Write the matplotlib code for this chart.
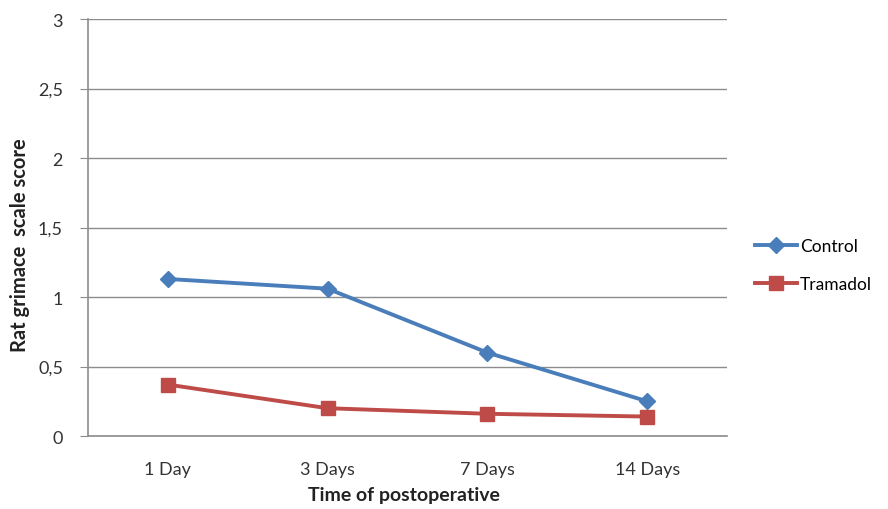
import matplotlib.pyplot as plt

# datos
categories = ['1 Day', '3 Days', '7 Days', '14 Days']
control = [1.13, 1.06, 0.60, 0.25]
tramadol = [0.37, 0.20, 0.16, 0.14]
y_ticks = [0, 0.5, 1, 1.5, 2, 2.5, 3]
y_tick_labels = ['0', '0,5', '1', '1,5', '2', '2,5', '3']

plt.rcParams['font.family'] = ['Lato', 'DejaVu Sans']

fig = plt.figure(figsize=(8.88, 5.1), dpi=100)
ax = fig.add_axes([0.0991, 0.1431, 0.7196, 0.8176])

x = list(range(len(categories)))
ax.plot(x, control, color='#4A7EBB', linewidth=2.8, marker='D', markersize=8.5,
        label='Control', zorder=3)
ax.plot(x, tramadol, color='#BE4B48', linewidth=2.8, marker='s', markersize=10.5,
        label='Tramadol', zorder=3)

ax.set_xlim(-0.5, 3.5)
ax.set_ylim(0, 3)
ax.set_yticks(y_ticks)
ax.set_yticklabels(y_tick_labels)
ax.set_xticks(x)
ax.set_xticklabels(categories)

ax.grid(axis='y', color='#8c8c8c', linewidth=1)
ax.set_axisbelow(True)
for side in ['top', 'right']:
    ax.spines[side].set_visible(False)
for side in ['left', 'bottom']:
    ax.spines[side].set_color('#8c8c8c')
    ax.spines[side].set_linewidth(1.2)

ax.tick_params(axis='y', length=6, color='#8c8c8c', labelsize=13, labelcolor='#333333', pad=12)
ax.tick_params(axis='x', length=0, labelsize=13, labelcolor='#333333', pad=18)

ax.set_xlabel('Time of postoperative', fontsize=14, fontweight='bold', color='#222222')
ax.set_ylabel('Rat grimace  scale score', fontsize=14.5, fontweight='bold', color='#222222')
ax.xaxis.set_label_coords(0.494, -0.12)
ax.yaxis.set_label_coords(-0.091, 0.46)

ax.legend(loc='center left', bbox_to_anchor=(1.02, 0.41), frameon=False,
          fontsize=12.5, handlelength=2.4, labelspacing=1.3, handletextpad=0.15)

plt.savefig('out.png', dpi=100)
